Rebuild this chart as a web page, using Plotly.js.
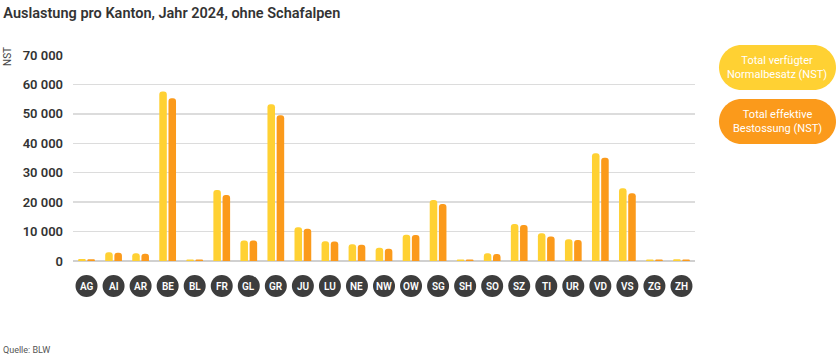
<!DOCTYPE html>
<html>
<head>
<meta charset="utf-8">
<script src="https://cdn.plot.ly/plotly-3.0.1.min.js"></script>
<style>html,body{margin:0;padding:0;background:#fff;}#chart{width:836px;height:355px;}</style>
</head>
<body>
<div id="chart"></div>
<script>
const cantons = ["AG","AI","AR","BE","BL","FR","GL","GR","JU","LU","NE","NW","OW","SG","SH","SO","SZ","TI","UR","VD","VS","ZG","ZH"];
const normalbesatz = [650, 3000, 2600, 57600, 550, 24100, 7000, 53300, 11500, 6700, 5700, 4500, 8900, 20700, 550, 2600, 12600, 9400, 7400, 36600, 24700, 550, 600];
const bestossung   = [600, 2800, 2500, 55300, 550, 22400, 7000, 49500, 11000, 6600, 5500, 4200, 8800, 19400, 500, 2400, 12200, 8300, 7100, 35100, 23000, 500, 550];
const seriesNames = ["Total verfügter<br>Normalbesatz (NST)", "Total effektive<br>Bestossung (NST)"];
const yTicks = [0, 10000, 20000, 30000, 40000, 50000, 60000, 70000];

const YELLOW = "#ffd133";
const ORANGE = "#fb9a1b";
const FONT = "Roboto, 'Open Sans', sans-serif";

const traces = [
  {type:"bar", x:cantons, y:normalbesatz, name:"Normalbesatz", marker:{color:YELLOW, cornerradius:"50%"}, hoverinfo:"skip"},
  {type:"bar", x:cantons, y:bestossung, name:"Bestossung", marker:{color:ORANGE, cornerradius:"50%"}, hoverinfo:"skip"}
];

const L = 73, R = 141, T = 55, B = 94;
const pw = 836 - L - R, ph = 355 - T - B;
const px2paperX = v => (v - L) / pw;
const py2paperY = v => (355 - B - v) / ph;

const shapes = [];
const annotations = [];
cantons.forEach((c, i) => {
  shapes.push({type:"circle", xref:"x", yref:"paper", xsizemode:"pixel", ysizemode:"pixel",
    xanchor:i, yanchor:0, x0:-11, x1:11, y0:-36, y1:-14,
    fillcolor:"#3d3d3d", line:{width:0}, layer:"above"});
  annotations.push({x:c, y:0, xref:"x", yref:"paper", yshift:-25, xanchor:"center", yanchor:"middle", text:c, showarrow:false,
    font:{family:FONT, size:10, color:"#ffffff", weight:600}});
});

function pillShape(x0, x1, yTop, yBot, color) {
  const r = (yBot - yTop) / 2;
  const pts = (x, y) => `${px2paperX(x)} ${py2paperY(y)}`;
  const k = 0.5523;
  const path = `M ${pts(x0 + r, yTop)} L ${pts(x1 - r, yTop)} ` +
    `C ${pts(x1 - r + k*r, yTop)} ${pts(x1, yTop + r - k*r)} ${pts(x1, yTop + r)} ` +
    `C ${pts(x1, yTop + r + k*r)} ${pts(x1 - r + k*r, yBot)} ${pts(x1 - r, yBot)} ` +
    `L ${pts(x0 + r, yBot)} ` +
    `C ${pts(x0 + r - k*r, yBot)} ${pts(x0, yTop + r + k*r)} ${pts(x0, yTop + r)} ` +
    `C ${pts(x0, yTop + r - k*r)} ${pts(x0 + r - k*r, yTop)} ${pts(x0 + r, yTop)} Z`;
  return {type:"path", xref:"paper", yref:"paper", path:path, fillcolor:color, line:{width:0}};
}
shapes.push(pillShape(719, 836, 45, 90, YELLOW));
shapes.push(pillShape(719, 836, 99, 144, ORANGE));
annotations.push({xref:"paper", yref:"paper", x:px2paperX(777), y:py2paperY(67.5), xanchor:"center", yanchor:"middle",
  text:seriesNames[0], showarrow:false, font:{family:FONT, size:11, color:"#ffffff"}, align:"center"});
annotations.push({xref:"paper", yref:"paper", x:px2paperX(777), y:py2paperY(121.5), xanchor:"center", yanchor:"middle",
  text:seriesNames[1], showarrow:false, font:{family:FONT, size:11, color:"#ffffff"}, align:"center"});

// y axis title
annotations.push({xref:"paper", yref:"paper", x:px2paperX(7), y:py2paperY(57), xanchor:"center", yanchor:"middle",
  text:"NST", textangle:-90, showarrow:false, font:{family:FONT, size:10, color:"#444"}});
// source
annotations.push({xref:"paper", yref:"paper", x:px2paperX(1), y:py2paperY(350), xanchor:"left", yanchor:"middle",
  text:"Quelle: BLW", showarrow:false, font:{family:FONT, size:9, color:"#555"}});

const layout = {
  width:836, height:355,
  margin:{l:L, r:R, t:T, b:B, pad:0},
  paper_bgcolor:"#fff", plot_bgcolor:"#fff",
  title:{text:"Auslastung pro Kanton, Jahr 2024, ohne Schafalpen", x:0.004, xanchor:"left", y:0.965, yanchor:"middle",
    font:{family:FONT, size:14.5, color:"#333", weight:600}},
  separators:". ",
  showlegend:false,
  barmode:"group", bargap:0.32, bargroupgap:0.18,
  xaxis:{type:"category", showticklabels:false, showgrid:false, zeroline:false, showline:false, ticks:"", fixedrange:true},
  yaxis:{range:[0,70000], tickvals:yTicks, tickformat:",d", showgrid:true, gridcolor:"#dcdcdc", gridwidth:1.5,
    zeroline:true, zerolinecolor:"#d0d0d0", zerolinewidth:2, ticks:"", ticklen:0, ticklabelstandoff:9,
    tickfont:{family:FONT, size:13, color:"#333", weight:600}, automargin:false},
  shapes:shapes, annotations:annotations
};
Plotly.newPlot("chart", traces, layout, {displayModeBar:false, staticPlot:true});
</script>
</body>
</html>
